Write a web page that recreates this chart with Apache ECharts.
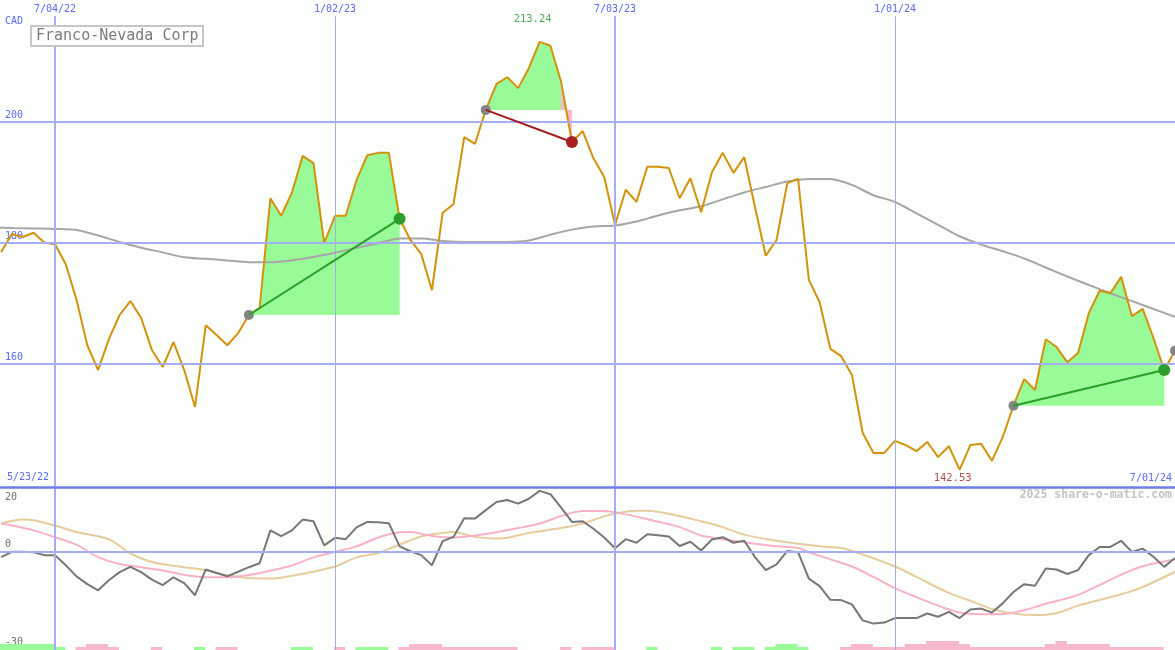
<!DOCTYPE html>
<html>
<head>
<meta charset="utf-8">
<script src="https://cdn.jsdelivr.net/npm/echarts@6/dist/echarts.min.js"></script>
<style>
html,body{margin:0;padding:0;background:#fcfffc;}
#chart{width:1175px;height:650px;}
</style>
</head>
<body>
<div id="chart"></div>
<script>
// ---------- DATA (weekly, week 0 = 7/04/22) ----------
const FIRST_WEEK = -5;
const price = [
 178.5,181.5,181.0,181.7,180.1,
 179.8,176.5,170.6,163.1,159.0,164.1,168.1,170.4,167.6,162.3,
 159.5,163.6,159.0,152.9,166.4,164.8,163.1,165.1,168.1,169.3,
 187.4,184.5,188.3,194.4,193.2,180.0,184.5,184.5,190.4,194.5,
 194.9,194.9,184.0,180.5,178.2,172.2,185.0,186.4,197.5,196.4,
 202.0,206.3,207.4,205.6,208.9,213.24,212.6,206.6,196.7,198.5,
 194.0,190.9,183.0,188.8,186.8,192.6,192.6,192.4,187.4,190.7,
 185.1,191.7,194.9,191.6,194.2,185.9,177.9,180.5,189.9,190.6,
 173.9,170.2,162.5,161.3,158.2,148.6,145.3,145.3,147.3,146.6,
 145.6,147.1,144.6,146.4,142.53,146.6,146.8,144.0,147.9,153.1,
 157.5,155.7,164.1,162.8,160.3,161.8,168.4,172.1,171.7,174.4,
 167.9,169.1,164.3,159.0,162.2
];
const maWeeks = [-6,-4,-2,0,2,4,6,8,10,12,14,16,18,20,22,24,26,28,30,32,34,36,38,40,42,44,46,48,50,52,54,56,58,60,62,64,66,68,70,72,74,76,78,80,82,84,86,88,90,92,94,96,98,100,102,104];
const maValues = [182.56,182.48,182.41,182.33,182.15,181.24,180.17,179.22,178.45,177.64,177.39,177.12,176.83,176.83,177.14,177.69,178.40,179.19,179.95,180.74,180.76,180.33,180.17,180.17,180.17,180.41,181.37,182.21,182.73,182.89,183.55,184.56,185.40,186.07,187.21,188.35,189.27,190.15,190.58,190.56,189.60,187.90,186.78,184.89,183.01,181.11,179.74,178.64,177.44,175.95,174.46,173.06,171.70,170.40,169.09,167.82];

const oscDark = [
 -1.5,0.1,0.1,0,-0.9,
 -0.9,-4.0,-7.4,-9.8,-11.7,-8.6,-6.1,-4.5,-6.1,-8.4,
 -10.1,-7.7,-9.5,-13.2,-5.3,-6.4,-7.4,-6.0,-4.6,-3.4,
 6.7,4.9,6.7,10.0,9.5,2.1,4.4,4.0,7.6,9.3,
 9.2,8.9,1.8,0.3,-0.9,-4.0,3.4,4.7,10.4,10.3,
 12.9,15.4,16.0,14.9,16.4,18.8,17.8,13.7,9.3,9.5,
 7.2,4.5,1.2,4.0,2.9,5.5,5.2,4.8,1.9,3.2,
 0.5,3.9,4.6,2.9,3.5,-1.5,-5.5,-3.7,0.4,0,
 -8.1,-10.4,-14.6,-14.7,-16.0,-20.9,-21.9,-21.6,-20.2,-20.2,
 -20.2,-18.8,-19.8,-18.3,-20.2,-17.6,-17.3,-18.5,-15.7,-12.2,
 -9.8,-10.3,-5.0,-5.3,-6.7,-5.5,-0.9,1.6,1.6,3.5,
 0.1,1.1,-1.4,-4.5,-1.8
];
const pinkWeeks = [-5,-4,-2,0,2,4,6,8,10,12,14,16,18,20,22,24,26,28,30,32,33,35,37,40,43,45,47,49,51,53,55,58,60,62,65,67,69,70,72,74,76,78,80,82,84,86,88,90,92,95,99,101,104];
const pinkValues = [8.8,8.2,6.7,4.6,2.3,-1.5,-3.6,-4.6,-5.6,-6.9,-7.7,-7.7,-7.0,-5.7,-4.1,-1.6,0.1,1.8,4.5,6.1,6.2,5.0,4.5,5.6,7.4,8.8,11.1,12.6,12.6,11.6,10.1,7.7,5.1,4.0,2.6,1.8,1.3,0,-2.2,-4.4,-7.6,-11.0,-13.8,-16.4,-18.5,-19.0,-19.0,-17.8,-15.8,-13.1,-6.9,-4.3,-2.2];
const tanWeeks = [-5,-3,-2,0,2,5,7,9,12,14,16,18,20,23,26,28,30,31,34,36,37,39,41,42,44,47,49,51,52,54,55,57,60,62,64,67,71,73,75,78,80,83,85,87,89,91,93,95,99,101,104];
const tanValues = [8.8,10.0,9.8,8.2,6.2,4.0,-0.4,-3.0,-4.6,-5.5,-7.1,-7.9,-8.1,-6.6,-4.4,-1.6,-0.3,1.0,4.8,5.9,6.2,4.7,4.2,4.4,5.9,7.4,8.8,11.0,11.8,12.7,12.7,11.8,9.5,7.7,5.4,3.5,1.8,1.3,-0.7,-4.4,-7.6,-12.5,-14.9,-17.4,-18.8,-19.3,-18.7,-16.4,-12.9,-10.7,-6.0];
// signal bars: sign = green(+)/pink(-), magnitude = level
const signalBars = [
 2,2,2,2,2,
 1,0,-1,-2,-2,-1,0,0,0,-1,
 0,0,0,1,0,-1,-1,0,0,0,
 0,0,1,1,0,0,-1,0,1,1,
 1,0,-1,-2,-2,-2,-1,-1,-1,-1,
 -1,-1,-1,0,0,0,0,-1,0,-1,
 -1,-1,0,0,0,1,0,0,0,0,
 0,1,0,1,1,0,1,2,2,1,
 0,0,0,-1,-2,-2,-1,-1,-1,-2,
 -2,-3,-3,-3,-2,-1,-1,-1,-1,-1,
 -1,-1,-2,-3,-2,-2,-2,-2,-1,-1,
 -1,-1,-1,0,0
];
const tradeEntryWeeks = [18, 40, 89];
const tradeExitWeeks  = [32, 48, 103];
const openTradeWeeks  = [104];
const highWeek = 45, highValue = 213.24;
const lowWeek = 84, lowValue = 142.53;

const topTickWeeks = [0, 26, 52, 78];
const topTickLabels = ['7/04/22', '1/02/23', '7/03/23', '1/01/24'];
const majorVWeeks = [0, 52];
const minorVWeeks = [26, 78];
const priceTicks = [160, 180, 200];
const oscLowTicks = [-30, 0];
const oscHighTicks = [20];
const currency = 'CAD';
const startLabel = '5/23/22';
const endLabel = '7/01/24';
const titleText = 'Franco-Nevada Corp';
const watermark = '2025 share-o-matic.com';

// ---------- helpers ----------
const MONO = 'DejaVu Sans Mono, Liberation Mono, monospace';
const PRICE_MIN = 139.669, PRICE_MAX = 220.165;
const PRICE_LINE_TOP = 217.5; // vertical grid lines stop below the date labels
const priceAt = w => price[w - FIRST_WEEK];
const pricePairs = price.map((v, i) => [i + FIRST_WEEK, v]);
const darkPairs = oscDark.map((v, i) => [i + FIRST_WEEK, v]);
const maPairs = maWeeks.map((w, i) => [w, maValues[i]]);
const pinkPairs = pinkWeeks.map((w, i) => [w, pinkValues[i]]);
const tanPairs = tanWeeks.map((w, i) => [w, tanValues[i]]);
const barPairs = signalBars.map((v, i) => [i + FIRST_WEEK, v]).filter(d => d[1] !== 0);
const tradePairs = tradeEntryWeeks.map((e, i) => [e, tradeExitWeeks[i]]);

const XMIN = -55 / 10.769, XMAX = 104;
const GRID_BLUE = '#a4aef0';

const chart = echarts.init(document.getElementById('chart'), null, {renderer: 'canvas'});

const vLine = (w, color, width) => [
  {coord: [w, PRICE_LINE_TOP], lineStyle: {color, width, type: 'solid'}},
  {coord: [w, PRICE_MIN]}
];

const option = {
  animation: false,
  backgroundColor: '#fcfffc',
  title: {
    text: titleText, left: 31, top: 26, padding: [3, 5, 2, 5],
    borderColor: '#c6c6c6', borderWidth: 2, backgroundColor: '#fcfffc',
    textStyle: {fontFamily: MONO, fontSize: 15, fontWeight: 'normal', color: '#7c7c7c'}
  },
  grid: [
    {left: 0, right: 0, top: 0, height: 487},
    {left: 0, right: 0, top: 487, height: 163}
  ],
  xAxis: [
    {gridIndex: 0, type: 'value', min: XMIN, max: XMAX, position: 'top',
     axisLine: {show: false}, axisTick: {show: false}, splitLine: {show: false},
     axisLabel: {inside: true, customValues: topTickWeeks, margin: 4,
       formatter: v => topTickLabels[topTickWeeks.indexOf(v)] || '',
       color: '#5b6cf0', fontFamily: MONO, fontSize: 10}},
    {gridIndex: 1, type: 'value', min: XMIN, max: XMAX, show: false}
  ],
  yAxis: [
    {gridIndex: 0, type: 'value', min: PRICE_MIN, max: PRICE_MAX,
     axisLine: {show: false}, axisTick: {show: false}, splitLine: {show: false},
     axisLabel: {inside: true, customValues: priceTicks, margin: 5, verticalAlign: 'bottom', padding: [0,0,2,0],
       color: '#5b6cf0', fontFamily: MONO, fontSize: 10}},
    {gridIndex: 1, type: 'value', min: -30, max: 20,
     axisLine: {show: false}, axisTick: {show: false}, splitLine: {show: false},
     axisLabel: {inside: true, customValues: oscLowTicks, margin: 5, verticalAlign: 'bottom', padding: [0,0,3,0],
       color: '#6e6e6e', fontFamily: MONO, fontSize: 10}},
    {gridIndex: 1, type: 'value', min: -30, max: 20, position: 'left',
     axisLine: {show: false}, axisTick: {show: false}, splitLine: {show: false},
     axisLabel: {inside: true, customValues: oscHighTicks, margin: 5, verticalAlign: 'top', padding: [5,0,0,0],
       color: '#6e6e6e', fontFamily: MONO, fontSize: 10}}
  ],
  graphic: [
    {type: 'text', left: 5, top: 16, style: {text: currency, fill: '#5b6cf0', font: '10px ' + MONO}},
    {type: 'text', left: 7, top: 472, style: {text: startLabel, fill: '#5b6cf0', font: '10px ' + MONO}},
    {type: 'text', right: 3, top: 473, style: {text: endLabel, fill: '#5b6cf0', font: '10px ' + MONO}},
    {type: 'text', right: 3, top: 489, style: {text: watermark, fill: '#c4c4c4', font: 'bold 11.5px ' + MONO}}
  ],
  series: [
    // grid lines, main panel
    {type: 'line', xAxisIndex: 0, yAxisIndex: 0, data: [], z: 1, silent: true,
     markLine: {silent: true, symbol: 'none', label: {show: false}, animation: false,
       data: [
         ...priceTicks.map(v => ({yAxis: v, lineStyle: {color: GRID_BLUE, width: 2, type: 'solid'}})),
         ...majorVWeeks.map(w => vLine(w, GRID_BLUE, 2)),
         ...minorVWeeks.map(w => vLine(w, '#a9aed8', 1))
       ]}},
    // grid lines, oscillator panel
    {type: 'line', xAxisIndex: 1, yAxisIndex: 1, data: [], z: 1, silent: true,
     markLine: {silent: true, symbol: 'none', label: {show: false}, animation: false,
       data: [
         {yAxis: 0, lineStyle: {color: GRID_BLUE, width: 2, type: 'solid'}},
         ...majorVWeeks.map(w => ({xAxis: w, lineStyle: {color: GRID_BLUE, width: 2, type: 'solid'}})),
         ...minorVWeeks.map(w => ({xAxis: w, lineStyle: {color: '#a9aed8', width: 1, type: 'solid'}}))
       ]}},
    // trade fills
    {type: 'custom', xAxisIndex: 0, yAxisIndex: 0, z: 2, silent: true, data: tradePairs,
     renderItem: function (params, api) {
       const e = api.value(0), x = api.value(1);
       const base = priceAt(e);
       const children = [];
       let g = e;
       while (g < x && priceAt(g + 1) >= base) g++;
       if (g > e) {
         const pts = [];
         for (let w = e; w <= g; w++) pts.push(api.coord([w, priceAt(w)]));
         pts.push(api.coord([g, base]));
         pts.push(api.coord([e, base]));
         children.push({type: 'polygon', shape: {points: pts}, style: {fill: '#98fb98'}});
       }
       for (let w = g; w < x; w++) {
         const pts = [api.coord([w, priceAt(w)]), api.coord([w + 1, priceAt(w + 1)]),
                      api.coord([w + 1, base]), api.coord([w, base])];
         children.push({type: 'polygon', shape: {points: pts}, style: {fill: '#f9b8ca'}});
       }
       return {type: 'group', children};
     }},
    // moving average
    {type: 'line', xAxisIndex: 0, yAxisIndex: 0, data: maPairs, z: 3, smooth: 0.3,
     showSymbol: false, lineStyle: {color: '#a6a6a6', width: 2}},
    // price
    {type: 'line', xAxisIndex: 0, yAxisIndex: 0, data: pricePairs, z: 4,
     showSymbol: false, lineStyle: {color: '#d4920c', width: 2}},
    // trade lines and dots
    {type: 'custom', xAxisIndex: 0, yAxisIndex: 0, z: 5, silent: true, data: tradePairs,
     renderItem: function (params, api) {
       const e = api.value(0), x = api.value(1);
       const p0 = api.coord([e, priceAt(e)]), p1 = api.coord([x, priceAt(x)]);
       const win = priceAt(x) >= priceAt(e);
       return {type: 'group', children: [
         {type: 'circle', shape: {cx: p0[0], cy: p0[1], r: 5}, style: {fill: '#858585'}},
         {type: 'line', shape: {x1: p0[0], y1: p0[1], x2: p1[0], y2: p1[1]},
          style: {stroke: win ? '#26a026' : '#a41c1c', lineWidth: 2}},
         {type: 'circle', shape: {cx: p1[0], cy: p1[1], r: 6}, style: {fill: win ? '#2d9d2d' : '#a82020'}}
       ]};
     }},
    // open trade entry
    {type: 'custom', xAxisIndex: 0, yAxisIndex: 0, z: 5, silent: true,
     data: openTradeWeeks.map(w => [w]),
     renderItem: function (params, api) {
       const w = api.value(0);
       const p = api.coord([w, priceAt(w)]);
       return {type: 'circle', shape: {cx: p[0], cy: p[1], r: 5}, style: {fill: '#858585'}};
     }},
    // high / low labels
    {type: 'scatter', xAxisIndex: 0, yAxisIndex: 0, z: 6, symbolSize: 0, silent: true,
     data: [[highWeek, highValue]],
     label: {show: true, position: 'top', distance: 17, offset: [-7, 0], formatter: () => highValue.toFixed(2),
       color: '#2a962a', fontFamily: MONO, fontSize: 10.5}},
    {type: 'scatter', xAxisIndex: 0, yAxisIndex: 0, z: 6, symbolSize: 0, silent: true,
     data: [[lowWeek, lowValue]],
     label: {show: true, position: 'bottom', distance: 3, offset: [-7, 0], formatter: () => lowValue.toFixed(2),
       color: '#a01e1e', fontFamily: MONO, fontSize: 10.5}},
    // oscillator
    {type: 'line', xAxisIndex: 1, yAxisIndex: 1, data: tanPairs, z: 3, smooth: 0.3,
     showSymbol: false, lineStyle: {color: '#e6cc9e', width: 2}},
    {type: 'line', xAxisIndex: 1, yAxisIndex: 1, data: pinkPairs, z: 3, smooth: 0.3,
     showSymbol: false, lineStyle: {color: '#f8b2c8', width: 2}},
    {type: 'line', xAxisIndex: 1, yAxisIndex: 1, data: darkPairs, z: 4,
     showSymbol: false, lineStyle: {color: '#777777', width: 2}},
    // signal bars
    {type: 'custom', xAxisIndex: 1, yAxisIndex: 1, z: 2, silent: true, data: barPairs,
     renderItem: function (params, api) {
       const w = api.value(0), s = api.value(1);
       const a = api.coord([w - 0.1, -30]), b = api.coord([w + 0.9, -30]);
       const h = Math.abs(s) * 3;
       return {type: 'rect', shape: {x: a[0], y: a[1] - h, width: b[0] - a[0] + 0.5, height: h},
               style: {fill: s > 0 ? '#98fb98' : '#f8b8cc'}};
     }},
    // separator line between panels
    {type: 'line', xAxisIndex: 1, yAxisIndex: 1, data: [], z: 7, silent: true,
     markLine: {silent: true, symbol: 'none', label: {show: false}, animation: false,
       data: [{yAxis: 20, lineStyle: {color: '#6e7ee8', width: 2.5, type: 'solid'}}]}}
  ]
};
chart.setOption(option);
</script>
</body>
</html>
